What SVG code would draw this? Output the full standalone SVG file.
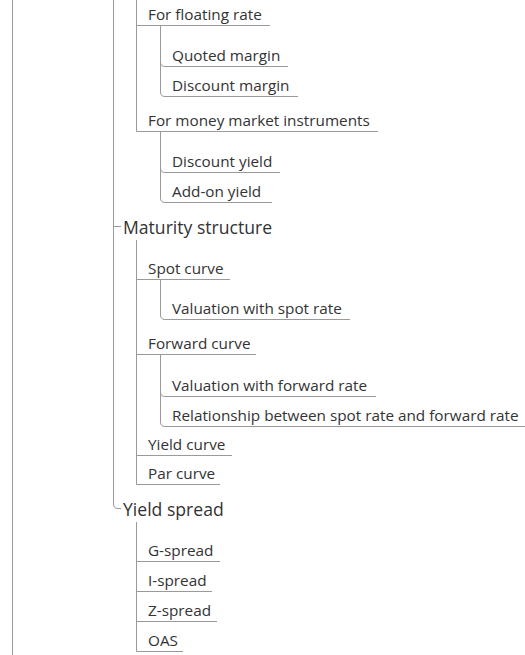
<svg xmlns="http://www.w3.org/2000/svg" width="525" height="655" viewBox="0 0 525 655">
<style>
.l{fill:none;stroke:#9a9a9a;stroke-width:1}
.t2{font-family:"Open Sans","Noto Sans",sans-serif;font-size:15.3px;fill:#333}
.t1{font-family:"Open Sans","Noto Sans",sans-serif;font-size:17.6px;fill:#333}
</style>
<rect width="525" height="655" fill="#fff"/>
<g id="connectors">
<path class="l" d="M12.5,0V655"/>
<path class="l" d="M113.5,0V504Q113.5,508.5 118,508.5H121"/>
<path class="l" d="M113.5,226.5H121"/>
<path class="l" d="M136.5,0V131.5"/>
<path class="l" d="M136.5,25.5H270"/>
<path class="l" d="M160.5,25.5V62Q160.5,66.5 165,66.5H288"/>
<path class="l" d="M160.5,25.5V92Q160.5,96.5 165,96.5H298"/>
<path class="l" d="M136.5,131.5H378"/>
<path class="l" d="M160.5,131.5V168Q160.5,172.5 165,172.5H280"/>
<path class="l" d="M160.5,131.5V198Q160.5,202.5 165,202.5H272"/>
<path class="l" d="M136.5,240V484.5"/>
<path class="l" d="M136.5,279.5H230"/>
<path class="l" d="M160.5,279.5V315Q160.5,319.5 165,319.5H350"/>
<path class="l" d="M136.5,354.5H256"/>
<path class="l" d="M160.5,354.5V392Q160.5,396.5 165,396.5H376"/>
<path class="l" d="M160.5,354.5V422Q160.5,426.5 165,426.5H525"/>
<path class="l" d="M136.5,455.5H232"/>
<path class="l" d="M136.5,484.5H220"/>
<path class="l" d="M136.5,522V651.5"/>
<path class="l" d="M136.5,561.5H220"/>
<path class="l" d="M136.5,591.5H212"/>
<path class="l" d="M136.5,621.5H217"/>
<path class="l" d="M136.5,651.5H183"/>
</g>
<g id="n-floating"><text class="t2" x="148" y="20">For floating rate</text></g>
<g id="n-quoted"><text class="t2" x="172" y="61">Quoted margin</text></g>
<g id="n-discount-margin"><text class="t2" x="172" y="91">Discount margin</text></g>
<g id="n-money"><text class="t2" x="148" y="126">For money market instruments</text></g>
<g id="n-discount-yield"><text class="t2" x="172" y="167">Discount yield</text></g>
<g id="n-addon"><text class="t2" x="172" y="197">Add-on yield</text></g>
<g id="n-maturity"><text class="t1" x="123" y="234">Maturity structure</text></g>
<g id="n-spot"><text class="t2" x="148" y="274">Spot curve</text></g>
<g id="n-val-spot"><text class="t2" x="172" y="314">Valuation with spot rate</text></g>
<g id="n-forward"><text class="t2" x="148" y="349">Forward curve</text></g>
<g id="n-val-fwd"><text class="t2" x="172" y="391">Valuation with forward rate</text></g>
<g id="n-rel"><text class="t2" x="172" y="421">Relationship between spot rate and forward rate</text></g>
<g id="n-yield-curve"><text class="t2" x="148" y="450">Yield curve</text></g>
<g id="n-par"><text class="t2" x="148" y="479">Par curve</text></g>
<g id="n-yield-spread"><text class="t1" x="123" y="516">Yield spread</text></g>
<g id="n-g"><text class="t2" x="148" y="556">G-spread</text></g>
<g id="n-i"><text class="t2" x="148" y="586">I-spread</text></g>
<g id="n-z"><text class="t2" x="148" y="616">Z-spread</text></g>
<g id="n-oas"><text class="t2" x="148" y="646">OAS</text></g>
</svg>
